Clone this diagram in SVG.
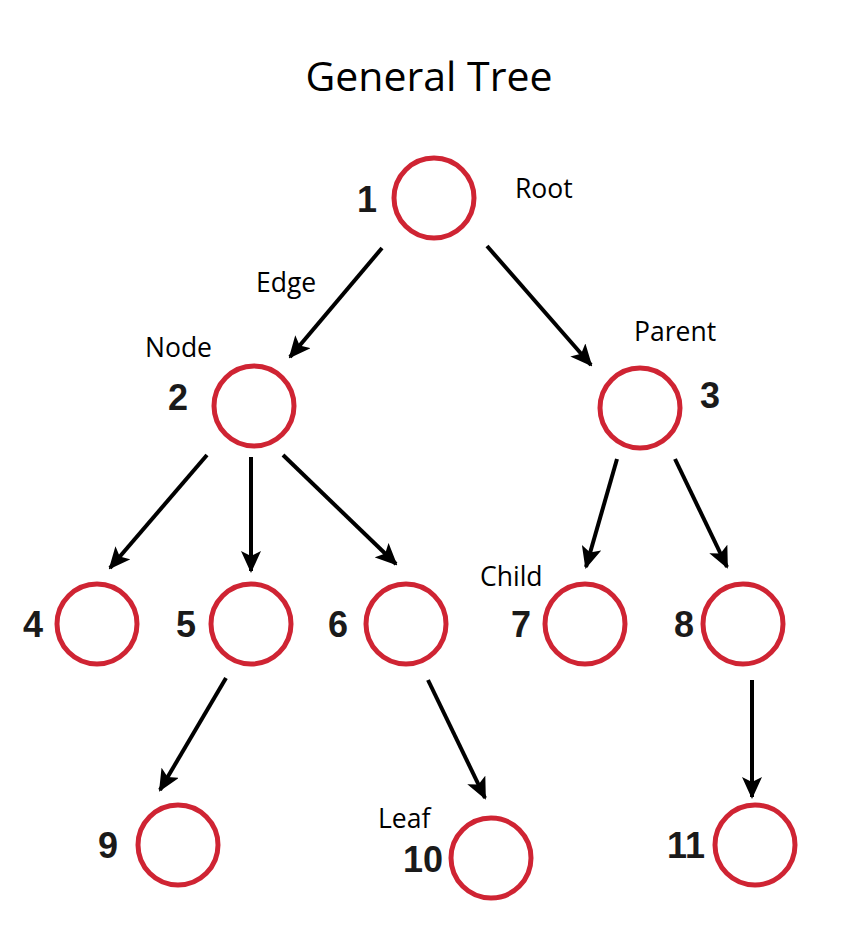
<svg xmlns="http://www.w3.org/2000/svg" width="841" height="942" viewBox="0 0 841 942">
<style>
.n{fill:none;stroke:#cf2433;stroke-width:5}
.num{font-family:"Liberation Sans",Arial,sans-serif;font-weight:bold;font-size:36px;fill:#1a1a1a}
.lbl{font-family:"Open Sans","Noto Sans",sans-serif;font-size:26.5px;fill:#000}
.title{font-family:"Open Sans","Noto Sans",sans-serif;font-size:41px;fill:#000}
.e{stroke:#000;stroke-width:4;fill:none;marker-end:url(#ah)}
</style>
<defs>
<marker id="ah" markerUnits="userSpaceOnUse" markerWidth="22" markerHeight="20" viewBox="0 0 22 20" refX="20" refY="10" orient="auto">
<path d="M0,0 L22,10 L0,20 L5,10 Z" fill="#000"/>
</marker>
</defs>
<rect width="841" height="942" fill="#fff"/>
<text class="title" x="429" y="91" text-anchor="middle">General Tree</text>
<g id="connectors">
<line class="e" x1="382" y1="248" x2="290" y2="357"/>
<line class="e" x1="487" y1="246" x2="591" y2="365"/>
<line class="e" x1="207" y1="455" x2="110" y2="568"/>
<line class="e" x1="251" y1="457" x2="251" y2="571"/>
<line class="e" x1="283" y1="455" x2="396" y2="564"/>
<line class="e" x1="617" y1="459" x2="586" y2="567"/>
<line class="e" x1="675" y1="459" x2="727" y2="567"/>
<line class="e" x1="226" y1="678" x2="160" y2="790"/>
<line class="e" x1="428" y1="680" x2="485" y2="798"/>
<line class="e" x1="752" y1="680" x2="752" y2="797"/>
</g>
<g id="node1"><circle class="n" cx="434" cy="198" r="40"/><text class="num" x="367" y="212" text-anchor="middle">1</text></g>
<g id="node2"><circle class="n" cx="254" cy="406" r="40"/><text class="num" x="178" y="410" text-anchor="middle">2</text></g>
<g id="node3"><circle class="n" cx="640" cy="408" r="40"/><text class="num" x="710" y="408" text-anchor="middle">3</text></g>
<g id="node4"><circle class="n" cx="97" cy="624" r="40"/><text class="num" x="33" y="637" text-anchor="middle">4</text></g>
<g id="node5"><circle class="n" cx="251" cy="624" r="40"/><text class="num" x="186" y="637" text-anchor="middle">5</text></g>
<g id="node6"><circle class="n" cx="406" cy="624" r="40"/><text class="num" x="338" y="637" text-anchor="middle">6</text></g>
<g id="node7"><circle class="n" cx="585" cy="624" r="40"/><text class="num" x="521" y="637" text-anchor="middle">7</text></g>
<g id="node8"><circle class="n" cx="743" cy="624" r="40"/><text class="num" x="684" y="637" text-anchor="middle">8</text></g>
<g id="node9"><circle class="n" cx="178" cy="845" r="40"/><text class="num" x="108" y="858" text-anchor="middle">9</text></g>
<g id="node10"><circle class="n" cx="491" cy="858" r="40"/><text class="num" x="423" y="872" text-anchor="middle">10</text></g>
<g id="node11"><circle class="n" cx="755" cy="845" r="40"/><text class="num" x="686" y="858" text-anchor="middle">11</text></g>
<g id="labels">
<text class="lbl" x="515" y="198">Root</text>
<text class="lbl" x="256" y="292">Edge</text>
<text class="lbl" x="145" y="357">Node</text>
<text class="lbl" x="634" y="341">Parent</text>
<text class="lbl" x="480" y="586">Child</text>
<text class="lbl" x="378" y="828">Leaf</text>
</g>
</svg>
